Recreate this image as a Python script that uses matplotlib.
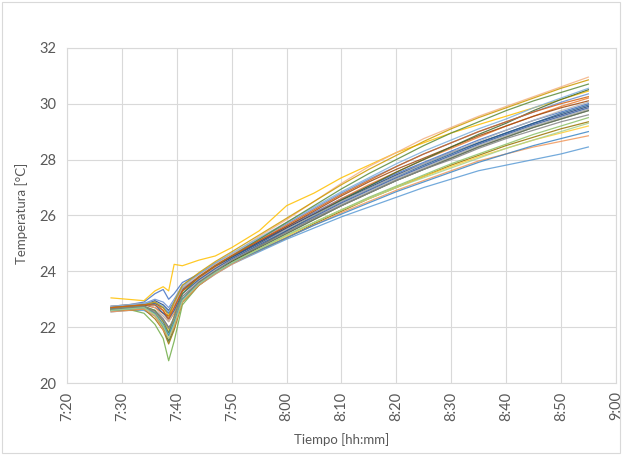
import matplotlib
matplotlib.use("Agg")
import matplotlib.pyplot as plt
from matplotlib.ticker import FuncFormatter
from matplotlib.patches import Rectangle

# minutes after 7:00
t_min = [28, 31, 34, 36, 37.5, 38.5, 39.5, 41, 44, 47, 50, 55, 60, 65, 70, 75, 80, 85, 90, 95, 100, 105, 110, 115]

s01 = [23.05, 23.0, 22.95, 23.3, 23.45, 23.3, 24.25, 24.2, 24.4, 24.55, 24.85, 25.45, 26.35, 26.8, 27.35, 27.8, 28.25, 28.6, 28.95, 29.25, 29.55, 29.85, 30.15, 30.45]
s02 = [22.75, 22.8, 22.85, 22.7, 22.4, 22.2, 22.8, 23.4, 23.85, 24.25, 24.6, 25.25, 25.85, 26.5, 27.15, 27.75, 28.25, 28.75, 29.15, 29.55, 29.9, 30.25, 30.6, 30.95]
s03 = [22.6, 22.65, 22.5, 22.1, 21.6, 20.8, 21.5, 22.8, 23.5, 23.95, 24.3, 24.85, 25.35, 25.85, 26.35, 26.8, 27.25, 27.65, 28.05, 28.45, 28.8, 29.15, 29.45, 29.75]
s04 = [22.7, 22.8, 22.9, 23.2, 23.35, 23.0, 23.2, 23.6, 23.9, 24.25, 24.55, 25.05, 25.6, 26.1, 26.6, 27.05, 27.5, 27.9, 28.3, 28.7, 29.05, 29.4, 29.7, 30.0]
s05 = [22.65, 22.7, 22.75, 22.9, 22.6, 22.2, 22.5, 23.3, 23.75, 24.15, 24.5, 25.0, 25.55, 26.05, 26.6, 27.1, 27.55, 28.0, 28.4, 28.8, 29.2, 29.55, 29.9, 30.2]
s06 = [22.6, 22.65, 22.7, 22.5, 22.1, 21.8, 22.3, 23.1, 23.65, 24.05, 24.4, 24.9, 25.4, 25.9, 26.4, 26.85, 27.3, 27.7, 28.1, 28.5, 28.85, 29.2, 29.5, 29.8]
s07 = [22.55, 22.6, 22.6, 22.4, 22.0, 21.7, 22.1, 22.9, 23.5, 23.9, 24.25, 24.7, 25.15, 25.55, 25.95, 26.3, 26.65, 27.0, 27.3, 27.6, 27.8, 28.0, 28.2, 28.45]
s08 = [22.75, 22.8, 22.8, 22.95, 22.8, 22.6, 22.9, 23.4, 23.8, 24.2, 24.5, 25.05, 25.55, 26.05, 26.55, 27.0, 27.45, 27.85, 28.25, 28.6, 28.95, 29.3, 29.6, 29.9]
s09 = [22.7, 22.75, 22.8, 22.7, 22.5, 22.4, 22.7, 23.3, 23.8, 24.2, 24.55, 25.1, 25.6, 26.15, 26.7, 27.2, 27.65, 28.05, 28.45, 28.85, 29.2, 29.55, 29.85, 30.1]
s10 = [22.65, 22.7, 22.7, 22.6, 22.3, 22.0, 22.2, 23.0, 23.6, 24.0, 24.35, 24.85, 25.35, 25.85, 26.35, 26.8, 27.25, 27.65, 28.05, 28.45, 28.8, 29.15, 29.45, 29.75]
s11 = [22.6, 22.6, 22.65, 22.3, 21.9, 21.4, 21.9, 22.9, 23.5, 23.95, 24.3, 24.75, 25.2, 25.7, 26.15, 26.6, 27.0, 27.4, 27.8, 28.15, 28.5, 28.8, 29.1, 29.35]
s12 = [22.7, 22.75, 22.8, 22.85, 22.7, 22.5, 22.8, 23.35, 23.8, 24.2, 24.5, 25.0, 25.5, 26.0, 26.5, 26.95, 27.4, 27.8, 28.2, 28.6, 28.95, 29.3, 29.65, 29.95]
s13 = [22.65, 22.7, 22.75, 22.5, 22.0, 21.5, 22.0, 23.0, 23.6, 24.0, 24.35, 24.9, 25.45, 26.0, 26.55, 27.05, 27.55, 28.0, 28.45, 28.9, 29.3, 29.75, 30.15, 30.5]
s14 = [22.7, 22.75, 22.85, 23.0, 22.9, 22.7, 23.0, 23.5, 23.9, 24.3, 24.6, 25.15, 25.7, 26.25, 26.8, 27.3, 27.75, 28.2, 28.6, 29.0, 29.35, 29.7, 30.05, 30.35]
s15 = [22.55, 22.6, 22.65, 22.4, 21.9, 21.6, 22.0, 22.9, 23.5, 23.9, 24.25, 24.75, 25.2, 25.65, 26.1, 26.5, 26.9, 27.25, 27.6, 27.95, 28.2, 28.45, 28.65, 28.85]
s16 = [22.7, 22.7, 22.75, 22.6, 22.4, 22.2, 22.6, 23.2, 23.7, 24.1, 24.45, 24.95, 25.5, 26.0, 26.5, 26.95, 27.4, 27.85, 28.25, 28.65, 29.05, 29.4, 29.75, 30.05]
s17 = [22.6, 22.65, 22.7, 22.5, 22.2, 21.9, 22.3, 23.0, 23.55, 23.95, 24.3, 24.8, 25.25, 25.75, 26.2, 26.6, 27.0, 27.4, 27.75, 28.1, 28.4, 28.7, 28.95, 29.2]
s18 = [22.75, 22.8, 22.85, 22.9, 22.75, 22.55, 22.9, 23.45, 23.9, 24.3, 24.65, 25.2, 25.75, 26.3, 26.85, 27.35, 27.85, 28.3, 28.7, 29.1, 29.45, 29.85, 30.2, 30.55]
s19 = [22.6, 22.65, 22.7, 22.45, 22.0, 21.7, 22.2, 23.0, 23.55, 23.95, 24.3, 24.8, 25.3, 25.75, 26.2, 26.65, 27.05, 27.45, 27.85, 28.2, 28.55, 28.9, 29.2, 29.5]
s20 = [22.7, 22.75, 22.8, 22.8, 22.5, 22.3, 22.6, 23.2, 23.7, 24.1, 24.45, 24.95, 25.45, 25.95, 26.45, 26.9, 27.35, 27.75, 28.15, 28.55, 28.9, 29.25, 29.55, 29.85]
s21 = [22.7, 22.75, 22.8, 22.9, 22.7, 22.4, 22.9, 23.5, 23.95, 24.35, 24.7, 25.3, 25.9, 26.5, 27.1, 27.65, 28.15, 28.65, 29.1, 29.5, 29.85, 30.2, 30.55, 30.85]
s22 = [22.65, 22.7, 22.75, 22.6, 22.2, 21.8, 22.4, 23.2, 23.8, 24.2, 24.55, 25.15, 25.75, 26.35, 26.95, 27.5, 28.0, 28.5, 28.95, 29.35, 29.75, 30.1, 30.4, 30.7]
s23 = [22.6, 22.65, 22.7, 22.5, 22.1, 21.7, 22.2, 23.0, 23.55, 23.95, 24.3, 24.75, 25.2, 25.65, 26.05, 26.45, 26.85, 27.2, 27.55, 27.9, 28.2, 28.5, 28.75, 29.0]
s24 = [22.7, 22.75, 22.8, 22.8, 22.6, 22.3, 22.7, 23.3, 23.8, 24.2, 24.55, 25.1, 25.65, 26.2, 26.75, 27.25, 27.75, 28.2, 28.6, 29.0, 29.35, 29.7, 30.0, 30.25]
s25 = [22.65, 22.7, 22.75, 22.55, 22.25, 21.95, 22.35, 23.1, 23.6, 24.0, 24.4, 24.9, 25.4, 25.9, 26.35, 26.8, 27.25, 27.65, 28.0, 28.4, 28.75, 29.05, 29.35, 29.6]
s26 = [22.6, 22.65, 22.7, 22.45, 22.05, 21.6, 22.1, 22.95, 23.55, 23.95, 24.3, 24.8, 25.3, 25.75, 26.2, 26.6, 27.0, 27.35, 27.7, 28.05, 28.4, 28.7, 29.0, 29.3]

series = [s04, s05, s06, s01, s07, s03, s08, s09, s10, s11, s12, s13,
          s14, s02, s16, s17, s18, s19, s20, s15, s21, s22, s23, s24, s25, s26]

# excel office palette
colors = ["#4472C4", "#ED7D31", "#A5A5A5", "#FFC000", "#5B9BD5", "#70AD47",
          "#264478", "#9E480E", "#636363", "#997300", "#255E91", "#43682B",
          "#698ED0", "#F4B183", "#B7B7B7", "#FFCD33", "#7CAFDD", "#8CC168",
          "#335AA1", "#F1975A", "#CC9A00", "#5A8A39", "#3C86C5", "#D26012",
          "#848484", "#A9D18E"]

grey = "#595959"
plt.rcParams['font.family'] = ['Lato', 'DejaVu Sans']

fig = plt.figure(figsize=(6.22, 4.55), dpi=100)
ax = fig.add_axes([0.108, 0.158, 0.882, 0.737])

for s, c in zip(series, colors):
    ax.plot(t_min, s, color=c, lw=0.9, alpha=0.85)

ax.set_xlim(20, 120)
ax.set_ylim(20, 32)
ax.set_xticks(range(20, 121, 10))
ax.set_yticks(range(20, 33, 2))
ax.xaxis.set_major_formatter(FuncFormatter(lambda v, p: "%d:%02d" % (7 + int(v) // 60, int(v) % 60)))
ax.tick_params(axis='x', rotation=90, length=0, labelsize=10.5, colors=grey, pad=6)
ax.tick_params(axis='y', length=0, labelsize=10.5, colors=grey, pad=8)
ax.grid(True, color="#D9D9D9", lw=0.8)
ax.set_axisbelow(True)
for sp in ax.spines.values():
    sp.set_color("#D9D9D9")
    sp.set_linewidth(0.8)

fig.text(0.035, 0.53, "Temperatura [°C]", rotation=90, ha='center', va='center', fontsize=9.5, color=grey)
fig.text(0.55, 0.033, "Tiempo [hh:mm]", ha='center', va='center', fontsize=9.5, color=grey)

fig.patches.append(Rectangle((0.004, 0.004), 0.992, 0.992, transform=fig.transFigure,
                             fill=False, edgecolor="#D9D9D9", lw=0.8))

fig.savefig("out.png", dpi=100)
